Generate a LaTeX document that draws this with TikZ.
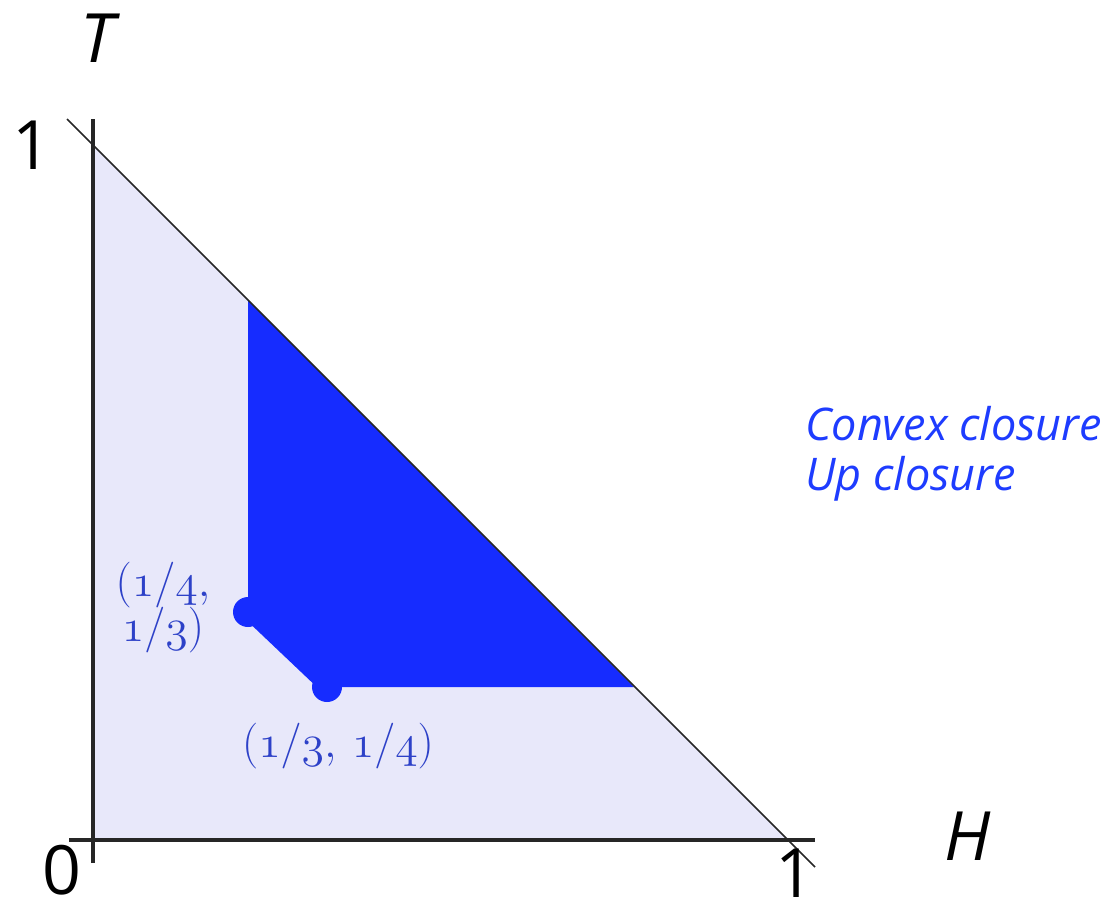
\documentclass[tikz,border=0pt]{standalone}
\usepackage{fontspec}
\usepackage{graphicx}
\setsansfont{Open Sans}
\definecolor{lav}{RGB}{232,232,250}
\definecolor{bluereg}{RGB}{22,44,255}
\definecolor{lblblue}{RGB}{45,65,200}
\definecolor{txtblue}{RGB}{30,60,255}
\newcommand{\plbl}[1]{\scalebox{2.65}{\LARGE\begin{tabular}{@{}c@{}}#1\end{tabular}}}
\tikzset{
  axis/.style={line width=3.2pt, black!85},
  hyp/.style={line width=1.6pt, black!85},
  axlbl/.style={font=\sffamily\fontsize{68}{70}\selectfont, inner sep=0pt},
  axlbli/.style={font=\sffamily\itshape\fontsize{68}{70}\selectfont, inner sep=0pt},
  ptlbl/.style={text=lblblue, inner sep=0pt},
  legend/.style={font=\sffamily\itshape\fontsize{45}{48}\selectfont, text=txtblue, inner sep=0pt, anchor=base west},
  dotst/.style={circle, fill=bluereg, minimum size=30pt, inner sep=0pt}
}
\begin{document}
\begin{tikzpicture}[x=1pt,y=-1pt]
\useasboundingbox (0,0) rectangle (1110,914);
\coordinate (O) at (93,840);
\coordinate (Tt) at (93,145);
\coordinate (Hh) at (788,840);
\coordinate (Tax) at (93,119);
\coordinate (Tbot) at (93,863);
\coordinate (Hax) at (815,840);
\coordinate (Hleft) at (69,840);
\coordinate (Dtop) at (67,119);
\coordinate (Dbot) at (815,867);
\coordinate (Atop) at (248,300);
\coordinate (Bend) at (634,687);
% triangle fill
\fill[lav] (O) -- (Tt) -- (Hh) -- cycle;
% blue region
\node[dotst] (P1) at (248,612) {};
\node[dotst] (P2) at (327,687) {};
\fill[bluereg] (Atop) -- (P1.center) -- (P2.center) -- (Bend) -- cycle;
\draw[bluereg, line width=14pt, line cap=round] (P1.center) -- (P2.center);
% axes
\draw[axis] (Tbot) -- (Tax);
\draw[axis] (Hleft) -- (Hax);
\draw[hyp] (Dtop) -- (Dbot);
% axis labels
\node[axlbli] (T) at (97,38) {T};
\node[axlbl] (one1) at (32,145) {1};
\node[axlbl] (zero) at (62,870) {0};
\node[axlbl] (one2) at (795,873) {1};
\node[axlbli] (H) at (968,836) {H};
% point labels
\node[ptlbl] (L1) at (163,607) {\plbl{$(\mathnormal{1}/\mathnormal{4},$\\[-5pt] $\mathnormal{1}/\mathnormal{3})$}};
\node[ptlbl] (L2) at (338,746) {\plbl{$(\mathnormal{1}/\mathnormal{3},\,\mathnormal{1}/\mathnormal{4})$}};
% legend
\node[legend] (C1) at (805,440) {Convex closure};
\node[legend] (C2) at (805,490) {Up closure};
\end{tikzpicture}
\end{document}
